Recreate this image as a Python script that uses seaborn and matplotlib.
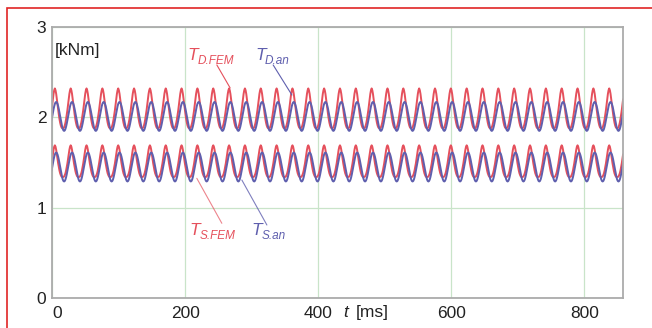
import numpy as np
import pandas as pd
import matplotlib
matplotlib.use("Agg")
import matplotlib.pyplot as plt
from matplotlib.patches import Rectangle
import seaborn as sns

# Torque ripple of the two machine sides, one ripple period sampled at 24 points
period_ms = 23.8          # ripple period
first_peak_fem_ms = 4.3   # first ripple maximum, FEM curves
first_peak_an_ms = 6.3    # first ripple maximum, analytical curves
t_end_ms = 858.0

td_fem = [2.32, 2.30, 2.26, 2.20, 2.14, 2.08, 2.03, 1.98, 1.94, 1.91, 1.89, 1.88,
          1.88, 1.88, 1.89, 1.91, 1.94, 1.98, 2.03, 2.08, 2.14, 2.20, 2.26, 2.30]
td_an = [2.17, 2.165, 2.149, 2.123, 2.09, 2.051, 2.01, 1.969, 1.93, 1.897, 1.871, 1.855,
         1.85, 1.855, 1.871, 1.897, 1.93, 1.969, 2.01, 2.051, 2.09, 2.123, 2.149, 2.165]
ts_fem = [1.69, 1.675, 1.64, 1.59, 1.54, 1.49, 1.45, 1.41, 1.38, 1.36, 1.345, 1.34,
          1.34, 1.34, 1.345, 1.36, 1.38, 1.41, 1.45, 1.49, 1.54, 1.59, 1.64, 1.675]
ts_an = [1.61, 1.605, 1.589, 1.563, 1.53, 1.491, 1.45, 1.409, 1.37, 1.337, 1.311, 1.295,
         1.29, 1.295, 1.311, 1.337, 1.37, 1.409, 1.45, 1.491, 1.53, 1.563, 1.589, 1.605]

x_ticks = [0, 200, 400, 600, 800]
y_ticks = [0, 1, 2, 3]

RED = "#e5505c"
BLUE = "#5f5fae"
TXT = "#222222"

sns.set_theme(style="white")
plt.rcParams["font.family"] = ["Liberation Sans", "DejaVu Sans"]


def periodic_frame(name, wave, first_peak):
    """Repeat one sampled ripple period over the whole time window."""
    n_per = len(wave)
    dt = period_ms / n_per
    k0 = -int(np.ceil(first_peak / dt))
    k1 = int(np.ceil((t_end_ms - first_peak) / dt)) + 1
    k = np.arange(k0, k1)
    return pd.DataFrame({"t": first_peak + k * dt,
                         "T": np.asarray(wave)[np.mod(k, n_per)],
                         "series": name})


df = pd.concat([
    periodic_frame("TD_FEM", td_fem, first_peak_fem_ms),
    periodic_frame("TD_an", td_an, first_peak_an_ms),
    periodic_frame("TS_FEM", ts_fem, first_peak_fem_ms),
    periodic_frame("TS_an", ts_an, first_peak_an_ms),
], ignore_index=True)

fig = plt.figure(figsize=(6.52, 3.28), dpi=100)
ax = fig.add_axes([52 / 652, 1 - 298 / 328, (623 - 52) / 652, (298 - 27) / 328])

palette = {"TD_FEM": RED, "TD_an": BLUE, "TS_FEM": RED, "TS_an": BLUE}
for name in ["TD_FEM", "TD_an", "TS_FEM", "TS_an"]:
    sub = df[df["series"] == name]
    sns.lineplot(data=sub, x="t", y="T", ax=ax, color=palette[name],
                 lw=1.4, estimator=None, sort=False, legend=False)

ax.set_xlim(0, t_end_ms)
ax.set_ylim(0, 3)
ax.set_xticks(x_ticks)
ax.set_yticks(y_ticks)
ax.set_xticklabels([str(v) for v in x_ticks])
ax.set_yticklabels([str(v) for v in y_ticks])
ax.set_xlabel("")
ax.set_ylabel("")
ax.tick_params(axis="both", length=0, labelsize=12.5, colors=TXT)
ax.tick_params(axis="x", pad=6)
ax.tick_params(axis="y", pad=4)
ax.get_xticklabels()[0].set_horizontalalignment("left")

ax.grid(True, color="#c9e4c9", lw=0.9)
ax.set_axisbelow(True)
for sp in ax.spines.values():
    sp.set_color("#ababab")
    sp.set_linewidth(1.3)

# unit and axis captions
ax.text(4.5, 2.74, "[kNm]", fontsize=12.5, va="center", ha="left", color=TXT)
ax.text(437, -0.155, "t", fontsize=12.5, style="italic", va="center", ha="left",
        color=TXT, clip_on=False)
ax.text(456, -0.155, "[ms]", fontsize=12.5, va="center", ha="left",
        color=TXT, clip_on=False)


def curve_label(x, y, sub, color):
    ax.text(x, y, "T", fontsize=12.5, style="italic", color=color,
            va="center", ha="left")
    ax.annotate(sub, xy=(x, y), xytext=(7.0, -4.2), textcoords="offset points",
                fontsize=8.5, style="italic", color=color, va="center", ha="left")


curve_label(204, 2.69, "D.FEM", RED)
curve_label(305, 2.69, "D.an", BLUE)
curve_label(207, 0.75, "S.FEM", RED)
curve_label(300, 0.75, "S.an", BLUE)

# leader lines from the labels to the curves
ax.plot([247.7, 267.7], [2.58, 2.325], color=RED, lw=0.8)
ax.plot([332.3, 360.5], [2.58, 2.247], color=BLUE, lw=0.8)
ax.plot([217.6, 255.2], [1.325, 0.827], color=RED, lw=0.8, alpha=0.7)
ax.plot([285.3, 322.9], [1.306, 0.808], color=BLUE, lw=0.8, alpha=0.8)

# red page frame around the figure
fig.add_artist(Rectangle((7 / 652, -0.2), 2.0, (1 - 8 / 328) + 0.2,
                         transform=fig.transFigure, fill=False,
                         edgecolor="#e02525", lw=1.2))

fig.savefig("out.png", dpi=100)
